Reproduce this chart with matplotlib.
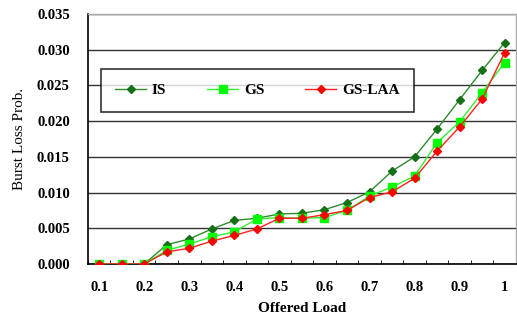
import matplotlib
matplotlib.use("Agg")
import matplotlib.pyplot as plt
import numpy as np

# offered load categories (Excel style category axis)
loads = [0.1, 0.15, 0.2, 0.25, 0.3, 0.35, 0.4, 0.45, 0.5, 0.55,
         0.6, 0.65, 0.7, 0.75, 0.8, 0.85, 0.9, 0.95, 1.0]
tick_labels = ['0.1', '0.2', '0.3', '0.4', '0.5', '0.6', '0.7', '0.8', '0.9', '1']

IS = [0, 0, 0, 0.0027, 0.0035, 0.0049, 0.0061, 0.0064, 0.0070, 0.0071,
      0.0076, 0.0086, 0.0101, 0.0130, 0.0150, 0.0189, 0.0230, 0.0271, 0.0310]
GS = [0, 0, 0, 0.0019, 0.0028, 0.0038, 0.0045, 0.0063, 0.0065, 0.0064,
      0.0065, 0.0075, 0.0095, 0.0108, 0.0123, 0.0170, 0.0199, 0.0240, 0.0282]
GS_LAA = [0, 0, 0, 0.0017, 0.0022, 0.0032, 0.0040, 0.0049, 0.0064, 0.0064,
          0.0069, 0.0075, 0.0093, 0.0101, 0.0120, 0.0158, 0.0192, 0.0231, 0.0296]

plt.rcParams['font.family'] = ['Liberation Serif', 'DejaVu Serif']

fig = plt.figure(figsize=(5.17, 3.21), dpi=100)
ax = fig.add_axes([0.170, 0.1776, 0.828, 0.779])

x = np.arange(len(loads))
ax.plot(x, IS, color='#2e8b2e', lw=1, marker='D', ms=4.5,
        mfc='#157015', mec='#157015', label='IS', zorder=3)
ax.plot(x, GS, color='#33ee33', lw=1, marker='s', ms=5.5,
        mfc='#00ff00', mec='#00ff00', label='GS', zorder=4)
ax.plot(x, GS_LAA, color='#ff2020', lw=1, marker='D', ms=4.5,
        mfc='#ff0000', mec='#ff0000', label='GS-LAA', zorder=5)

ax.set_xlim(-0.5, len(loads) - 0.5)
ax.set_ylim(0, 0.035)
ax.set_yticks(np.arange(0, 0.0351, 0.005))
ax.set_yticklabels(['%.3f' % v for v in np.arange(0, 0.0351, 0.005)],
                   fontweight='bold', fontsize=10.5)
ax.tick_params(axis='y', length=0, pad=13)

ax.set_xticks(np.arange(0, len(loads), 2))
ax.set_xticklabels(tick_labels, fontweight='bold', fontsize=10.5)
ax.set_xticks(np.arange(-0.5, len(loads), 1), minor=True)
ax.tick_params(axis='x', which='major', length=0, pad=12)
ax.tick_params(axis='x', which='minor', direction='in', length=3, color='black')

ax.grid(axis='y', color='#333333', lw=1)
ax.set_axisbelow(True)
for s in ['left', 'bottom']:
    ax.spines[s].set_color('black')
    ax.spines[s].set_linewidth(1.2)
for s in ['top', 'right']:
    ax.spines[s].set_color('#aaaaaa')
    ax.spines[s].set_linewidth(1)

ax.set_xlabel('Offered Load', fontweight='bold', fontsize=11, labelpad=6)
ax.set_ylabel('Burst Loss Prob.', fontsize=11, labelpad=8)

leg = ax.legend(loc='lower left', bbox_to_anchor=(0.03, 0.608, 0.732, 0.18),
                mode='expand', ncol=3, frameon=True, fancybox=False,
                edgecolor='black', handlelength=2.0, borderpad=0.95,
                handletextpad=0.4,
                prop={'weight': 'bold', 'size': 11}, borderaxespad=0)
leg.get_frame().set_linewidth(1.2)
leg.set_zorder(10)

fig.savefig('out.png', dpi=100)
